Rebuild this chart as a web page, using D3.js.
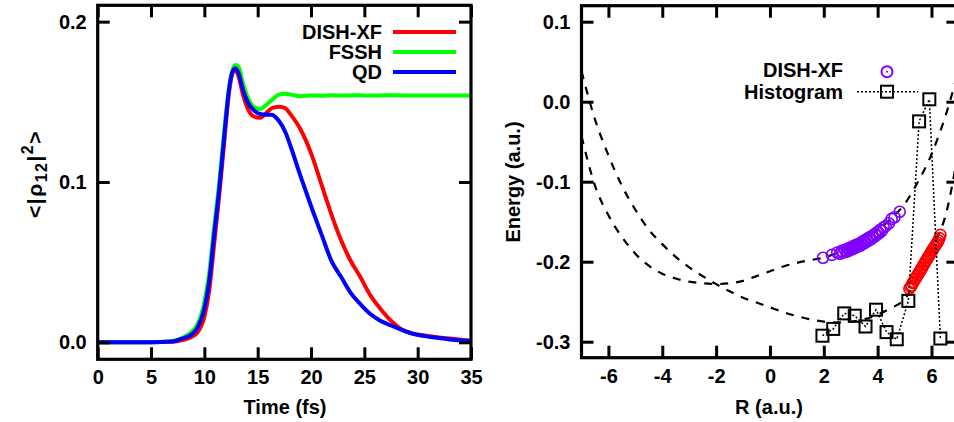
<!DOCTYPE html>
<html>
<head>
<meta charset="utf-8">
<script src="https://cdn.jsdelivr.net/npm/d3@7/dist/d3.min.js"></script>
<style>
  html, body { margin: 0; padding: 0; background: #fff; }
  svg { display: block; }
  text { font-family: "Liberation Sans", Arial, Helvetica, sans-serif; font-weight: bold; fill: #000; }
</style>
</head>
<body>
<svg id="chart" width="954" height="422"></svg>
<script>
// ---------- Left panel data: <|rho12|^2> vs time ----------
const time = [0, 5, 7, 8, 8.7, 9.35, 10, 10.45, 10.9, 11.4, 11.7, 12, 12.3, 12.6, 12.9, 13.2, 13.6, 14.05, 14.6, 15.2, 15.8, 16.3, 17, 17.6, 18.1, 19, 20, 21, 21.9, 22.8, 23.7, 24.6, 25.5, 26.5, 27.5, 28.5, 29.5, 30.5, 32, 33.5, 35];
const dishxf = [0, 0, 0.0003, 0.0015, 0.003, 0.006, 0.016, 0.032, 0.060, 0.092, 0.113, 0.135, 0.155, 0.167, 0.170, 0.166, 0.155, 0.146, 0.141, 0.140, 0.143, 0.146, 0.147, 0.146, 0.142, 0.133, 0.118, 0.098, 0.080, 0.064, 0.051, 0.041, 0.030, 0.021, 0.0135, 0.008, 0.0055, 0.0044, 0.003, 0.002, 0.001];
const fssh   = [0, 0, 0.0008, 0.003, 0.006, 0.011, 0.025, 0.043, 0.071, 0.100, 0.121, 0.141, 0.158, 0.169, 0.173, 0.172, 0.162, 0.153, 0.147, 0.1455, 0.148, 0.151, 0.1545, 0.155, 0.1545, 0.1535, 0.154, 0.1538, 0.1541, 0.1539, 0.154, 0.1541, 0.1539, 0.154, 0.1541, 0.154, 0.1539, 0.154, 0.154, 0.1539, 0.154];
const qd     = [0, 0, 0.0005, 0.0025, 0.0045, 0.009, 0.021, 0.038, 0.066, 0.096, 0.117, 0.138, 0.157, 0.168, 0.171, 0.168, 0.158, 0.150, 0.145, 0.1425, 0.142, 0.142, 0.138, 0.131, 0.122, 0.104, 0.085, 0.067, 0.051, 0.041, 0.031, 0.024, 0.018, 0.0135, 0.0105, 0.0078, 0.0054, 0.004, 0.0027, 0.0015, 0.0008];
const leftXTicks = [0, 5, 10, 15, 20, 25, 30, 35];
const leftYTicks = [0.0, 0.1, 0.2];
const leftSeries = ["DISH-XF", "FSSH", "QD"];

// ---------- Right panel data: energy vs R ----------
const pesR  = [-7, -6.5, -6, -5.5, -5, -4.5, -4, -3.5, -3, -2.5, -2, -1.5, -1, -0.5, 0, 0.5, 1, 1.5, 2, 2.5, 3, 3.5, 4, 4.5, 5, 5.5, 6, 6.25, 6.5, 6.75, 7];
const pes1E = [0.038, -0.022, -0.067, -0.105, -0.135, -0.160, -0.178, -0.194, -0.207, -0.218, -0.228, -0.237, -0.245, -0.251, -0.257, -0.263, -0.268, -0.272, -0.275, -0.276, -0.275, -0.272, -0.266, -0.258, -0.247, -0.219, -0.186, -0.167, -0.145, -0.108, -0.060];
const pes2E = [-0.043, -0.105, -0.142, -0.169, -0.190, -0.205, -0.215, -0.221, -0.225, -0.227, -0.228, -0.227, -0.224, -0.218, -0.212, -0.206, -0.2015, -0.198, -0.195, -0.189, -0.181, -0.172, -0.161, -0.146, -0.128, -0.100, -0.066, -0.044, -0.020, 0.008, 0.040];
const purpleR = [1.97, 2.3, 2.5, 2.6, 2.66, 2.72, 2.78, 2.84, 2.9, 2.95, 3.0, 3.05, 3.1, 3.15, 3.2, 3.25, 3.3, 3.35, 3.4, 3.45, 3.5, 3.55, 3.6, 3.65, 3.7, 3.75, 3.8, 3.85, 3.9, 3.95, 4.0, 4.05, 4.1, 4.16, 4.22, 4.3, 4.42, 4.52, 4.63, 4.82];
const purpleE = [-0.195, -0.1915, -0.1885, -0.190, -0.1865, -0.1885, -0.185, -0.1875, -0.1835, -0.186, -0.182, -0.1845, -0.1805, -0.183, -0.179, -0.1815, -0.1775, -0.180, -0.1755, -0.178, -0.1735, -0.176, -0.1715, -0.174, -0.1695, -0.172, -0.1675, -0.1695, -0.1650, -0.167, -0.1625, -0.1645, -0.160, -0.1615, -0.157, -0.1555, -0.152, -0.1465, -0.1445, -0.1375];
const redR = [5.18, 5.22, 5.26, 5.3, 5.34, 5.38, 5.42, 5.46, 5.5, 5.54, 5.58, 5.62, 5.66, 5.7, 5.74, 5.78, 5.82, 5.86, 5.9, 5.94, 5.98, 6.02, 6.06, 6.1, 6.14, 6.18, 6.22, 6.26, 6.3, 6.33];
const redE = [-0.234, -0.2315, -0.230, -0.2265, -0.2255, -0.222, -0.221, -0.2175, -0.2165, -0.213, -0.212, -0.2085, -0.2075, -0.204, -0.2025, -0.1995, -0.198, -0.195, -0.1935, -0.1905, -0.189, -0.186, -0.1845, -0.182, -0.1805, -0.178, -0.176, -0.1735, -0.1705, -0.1665];
const histR = [1.95, 2.35, 2.76, 3.15, 3.55, 3.94, 4.33, 4.71, 5.14, 5.54, 5.92, 6.33];
const histE = [-0.2925, -0.284, -0.2646, -0.2675, -0.281, -0.260, -0.288, -0.297, -0.249, -0.0246, 0.003, -0.296];
const rightXTicks = [-6, -4, -2, 0, 2, 4, 6];
const rightYTicks = [0.1, 0.0, -0.1, -0.2, -0.3];
const rightSeries = ["DISH-XF", "Histogram"];

const svg = d3.select("#chart");
const FONT = 20;

function frameAndAxes(g, x, y, xt, yt, xfmt, yfmt) {
  const [x0, x1] = x.range();
  const [y0, y1] = y.range();
  const axStyle = sel => {
    sel.select(".domain").remove();
    sel.selectAll(".tick line").attr("stroke", "#000").attr("stroke-width", 3);
    sel.selectAll(".tick text").style("font-size", FONT + "px").style("font-weight", "bold")
      .attr("font-family", null).attr("fill", "#000");
  };
  g.append("g").attr("transform", `translate(0,${y0})`)
    .call(d3.axisBottom(x).tickValues(xt).tickFormat(xfmt).tickSize(-12).tickPadding(11)).call(axStyle);
  g.append("g").attr("transform", `translate(0,${y1})`)
    .call(d3.axisTop(x).tickValues(xt).tickFormat("").tickSize(-12)).call(axStyle);
  g.append("g").attr("transform", `translate(${x0},0)`)
    .call(d3.axisLeft(y).tickValues(yt).tickFormat(yfmt).tickSize(-12).tickPadding(11)).call(axStyle);
  g.append("g").attr("transform", `translate(${x1},0)`)
    .call(d3.axisRight(y).tickValues(yt).tickFormat("").tickSize(-12)).call(axStyle);
  g.append("rect").attr("x", x0).attr("y", y1).attr("width", x1 - x0).attr("height", y0 - y1)
    .attr("fill", "none").attr("stroke", "#000").attr("stroke-width", 3.2);
}

// ================= LEFT PANEL =================
const xL = d3.scaleLinear().domain([0, 35]).range([97.7, 471]);
const yL = d3.scaleLinear().domain([-0.0106, 0.2102]).range([359.3, 5.3]);
const gL = svg.append("g");
svg.append("clipPath").attr("id", "clipL").append("rect")
  .attr("x", xL.range()[0]).attr("y", yL.range()[1])
  .attr("width", xL.range()[1] - xL.range()[0]).attr("height", yL.range()[0] - yL.range()[1]);

const lineL = d3.line().x(d => xL(d[0])).y(d => yL(d[1])).curve(d3.curveMonotoneX);
const leftData = [
  { name: leftSeries[0], vals: dishxf, color: "#ff0000" },
  { name: leftSeries[1], vals: fssh, color: "#00ff00" },
  { name: leftSeries[2], vals: qd, color: "#0000ff" }
];
const curves = gL.append("g").attr("clip-path", "url(#clipL)");
leftData.forEach(s => {
  curves.append("path").datum(time.map((t, i) => [t, s.vals[i]]))
    .attr("d", lineL).attr("fill", "none").attr("stroke", s.color)
    .attr("stroke-width", 4).attr("stroke-linejoin", "round");
});
frameAndAxes(gL, xL, yL, leftXTicks, leftYTicks, d3.format("d"), d3.format(".1f"));

// legend left
leftData.forEach((s, i) => {
  const ly = 32 + i * 20;
  gL.append("text").attr("x", 382).attr("y", ly + 7).attr("text-anchor", "end")
    .style("font-size", FONT + "px").text(s.name);
  gL.append("line").attr("x1", 393).attr("x2", 456).attr("y1", ly).attr("y2", ly)
    .attr("stroke", s.color).attr("stroke-width", 4);
});

// axis titles left
gL.append("text").attr("x", 285).attr("y", 414).attr("text-anchor", "middle")
  .style("font-size", FONT + "px").text("Time (fs)");
const yt = gL.append("text").attr("transform", "translate(42,174) rotate(-90)")
  .attr("text-anchor", "middle").style("font-size", "21px").style("letter-spacing", "1.5px");
yt.append("tspan").text("<|ρ");
yt.append("tspan").attr("dy", 5).style("font-size", "16px").text("12");
yt.append("tspan").attr("dy", -5).text("|");
yt.append("tspan").attr("dy", -9).style("font-size", "16px").text("2");
yt.append("tspan").attr("dy", 9).text(">");

// ================= RIGHT PANEL =================
const xR = d3.scaleLinear().domain([-7, 7]).range([581.5, 958.4]);
const yR = d3.scaleLinear().domain([-0.32, 0.12]).range([357.7, 5.7]);
const gR = svg.append("g");
svg.append("clipPath").attr("id", "clipR").append("rect")
  .attr("x", xR.range()[0]).attr("y", yR.range()[1])
  .attr("width", xR.range()[1] - xR.range()[0]).attr("height", yR.range()[0] - yR.range()[1]);

const marks = gR.append("g").attr("clip-path", "url(#clipR)");
const lineR = d3.line().x(d => xR(d[0])).y(d => yR(d[1])).curve(d3.curveMonotoneX);
[pes1E, pes2E].forEach(E => {
  marks.append("path").datum(pesR.map((r, i) => [r, E[i]]))
    .attr("d", lineR).attr("fill", "none").attr("stroke", "#000")
    .attr("stroke-width", 2.2).attr("stroke-dasharray", "8,8");
});
const PURPLE = "#8000ff";
marks.selectAll("circle.p").data(purpleR.map((r, i) => [r, purpleE[i]])).enter()
  .append("circle").attr("class", "p").attr("cx", d => xR(d[0])).attr("cy", d => yR(d[1]))
  .attr("r", 5.5).attr("fill", "none").attr("stroke", PURPLE).attr("stroke-width", 1.6);
marks.selectAll("circle.r").data(redR.map((r, i) => [r, redE[i]])).enter()
  .append("circle").attr("class", "r").attr("cx", d => xR(d[0])).attr("cy", d => yR(d[1]))
  .attr("r", 5.5).attr("fill", "none").attr("stroke", "#ff0000").attr("stroke-width", 1.6);
const histPts = histR.map((r, i) => [r, histE[i]]);
marks.append("path").datum(histPts).attr("d", d3.line().x(d => xR(d[0])).y(d => yR(d[1])))
  .attr("fill", "none").attr("stroke", "#000").attr("stroke-width", 1.5).attr("stroke-dasharray", "2,2");
marks.selectAll("rect.h").data(histPts).enter().append("rect").attr("class", "h")
  .attr("x", d => xR(d[0]) - 6).attr("y", d => yR(d[1]) - 6).attr("width", 12).attr("height", 12)
  .attr("fill", "none").attr("stroke", "#000").attr("stroke-width", 2);

frameAndAxes(gR, xR, yR, rightXTicks, rightYTicks, d3.format("d"), d3.format(".1f"));
gR.selectAll("text").filter(function () { return this.textContent.indexOf("−") >= 0; })
  .text(function () { return this.textContent.replace("−", "-"); });

// legend right
gR.append("text").attr("x", 843).attr("y", 77).attr("text-anchor", "end")
  .style("font-size", FONT + "px").text(rightSeries[0]);
gR.append("circle").attr("cx", 887).attr("cy", 71.7).attr("r", 5.5)
  .attr("fill", "none").attr("stroke", PURPLE).attr("stroke-width", 2);
gR.append("circle").attr("cx", 887).attr("cy", 71.7).attr("r", 1).attr("fill", PURPLE);
gR.append("text").attr("x", 843).attr("y", 99).attr("text-anchor", "end")
  .style("font-size", FONT + "px").text(rightSeries[1]);
gR.append("line").attr("x1", 857).attr("x2", 918).attr("y1", 91.7).attr("y2", 91.7)
  .attr("stroke", "#000").attr("stroke-width", 1.5).attr("stroke-dasharray", "2,2");
gR.append("rect").attr("x", 881).attr("y", 85.7).attr("width", 12).attr("height", 12)
  .attr("fill", "none").attr("stroke", "#000").attr("stroke-width", 2);

// axis titles right
gR.append("text").attr("x", 769).attr("y", 414).attr("text-anchor", "middle")
  .style("font-size", FONT + "px").text("R (a.u.)");
gR.append("text").attr("transform", "translate(520,182) rotate(-90)").attr("text-anchor", "middle")
  .style("font-size", FONT + "px").text("Energy (a.u.)");
</script>
</body>
</html>
